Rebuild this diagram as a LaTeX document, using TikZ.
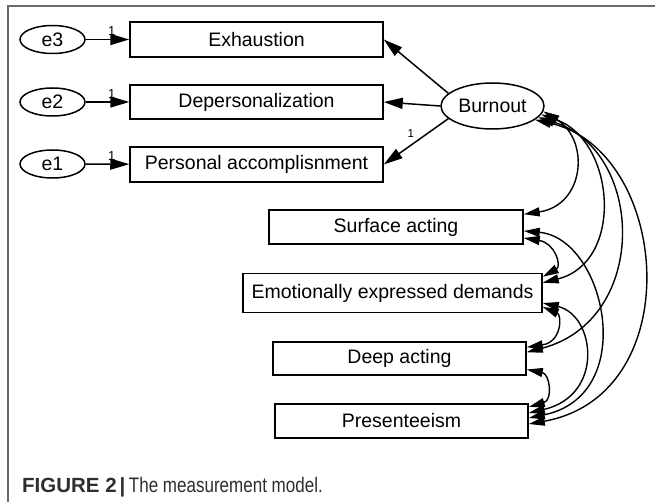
\documentclass[tikz,border=0pt]{standalone}
\usepackage{fontspec}
\setmainfont{Liberation Sans}
\newfontfamily\capnarrow[FakeStretch=0.81]{Liberation Sans}
\usetikzlibrary{arrows.meta,shapes.geometric,calc}
\definecolor{framegray}{HTML}{6A6A6A}
\definecolor{captext}{HTML}{2E2E2E}
\begin{document}
\begin{tikzpicture}[x=1pt,y=-1pt,
  lbl/.style={font=\fontsize{19.5}{21}\selectfont},
  box/.style={lbl,draw=black,line width=1.5pt,inner sep=0pt,minimum height=34pt},
  ell/.style={lbl,ellipse,draw=black,line width=1.5pt,inner sep=0pt},
  arr/.style={line width=1.5pt,-{Triangle[length=19pt,width=11pt]}},
  cov/.style={line width=1.4pt,{Triangle[length=16pt,width=9pt]}-{Triangle[length=16pt,width=9pt]}},
  one/.style={font=\fontsize{13}{13}\selectfont,inner sep=0pt}
]
\useasboundingbox (0,0) rectangle (655,502);
% frame
\draw[framegray,line width=1.8pt] (655,6) -- (8,6) -- (8,502);

% error terms
\node[ell,minimum width=65pt,minimum height=28pt] (e3) at (52.5,39.5) {e3};
\node[ell,minimum width=65pt,minimum height=28pt] (e2) at (52.5,102) {e2};
\node[ell,minimum width=65pt,minimum height=28pt] (e1) at (52.5,164) {e1};

% indicators
\node[box,minimum width=253pt,minimum height=35pt] (exh) at (256.5,39.5) {Exhaustion};
\node[box,minimum width=253pt] (dep) at (256.5,102) {Depersonalization};
\node[box,minimum width=253pt,minimum height=35pt] (pa) at (256.5,164.5) {Personal accomplisnment};

% latent
\node[ell,minimum width=103pt,minimum height=46pt] (burn) at (492.5,106) {Burnout};

% observed
\node[box,minimum width=254pt] (sa) at (396,227) {Surface acting};
\node[box,minimum width=299pt,minimum height=39pt] (eed) at (392.5,293) {Emotionally expressed demands};
\node[box,minimum width=253pt,minimum height=33pt] (da) at (399.5,358.5) {Deep acting};
\node[box,minimum width=253pt] (pres) at (401.5,421) {Presenteeism};

% error arrows
\draw[arr] (e3) -- (exh) node[one,pos=0.6,above=3pt] {1};
\draw[arr] (e2) -- (dep) node[one,pos=0.6,above=3pt] {1};
\draw[arr] (e1) -- (pa) node[one,pos=0.6,above=3pt] {1};

% loadings
\draw[arr] (burn.164) -- (exh.east);
\draw[arr] (burn.180) -- (dep.east);
\draw[arr] (burn.196) -- (pa.east) node[one,font=\fontsize{11.5}{11.5}\selectfont,pos=0.58,above=7pt] {1};

% covariances with Burnout
\draw[cov] (burn.-6) .. controls (590,140) and (585,205) .. ([yshift=-5pt]sa.north east);
\draw[cov] (burn.-10) .. controls (615,140) and (625,262) .. ([yshift=-10pt]eed.north east);
\draw[cov] (burn.-14) .. controls (645,150) and (650,320) .. ([yshift=-11pt]da.north east);
\draw[cov] (burn.-18) .. controls (670,150) and (690,395) .. ([yshift=-3pt]pres.east);

% other covariances
\draw[cov] ([yshift=-11pt]sa.east) .. controls (555,243) and (562,266) .. ([yshift=-4pt]eed.north east);
\draw[cov] ([yshift=-4pt]sa.east) .. controls (605,238) and (640,395) .. ([yshift=3pt]pres.east);
\draw[cov] ([yshift=-14pt]eed.east) .. controls (562,315) and (562,342) .. ([yshift=-6pt]da.north east);
\draw[cov] ([yshift=-10pt]eed.east) .. controls (595,315) and (605,395) .. ([yshift=8pt]pres.east);
\draw[cov] ([yshift=-11pt]da.east) .. controls (550,374) and (553,400) .. ([yshift=14pt]pres.east);

% caption
\node[anchor=base west,inner sep=0pt,text=captext,font=\fontsize{21}{23}\selectfont] (cap) at (22,492)
  {{\fontsize{20.5}{23}\selectfont\bfseries FIGURE 2\hspace{3pt}|}\hspace{3.5pt}{\capnarrow The measurement model.}};
\end{tikzpicture}
\end{document}
